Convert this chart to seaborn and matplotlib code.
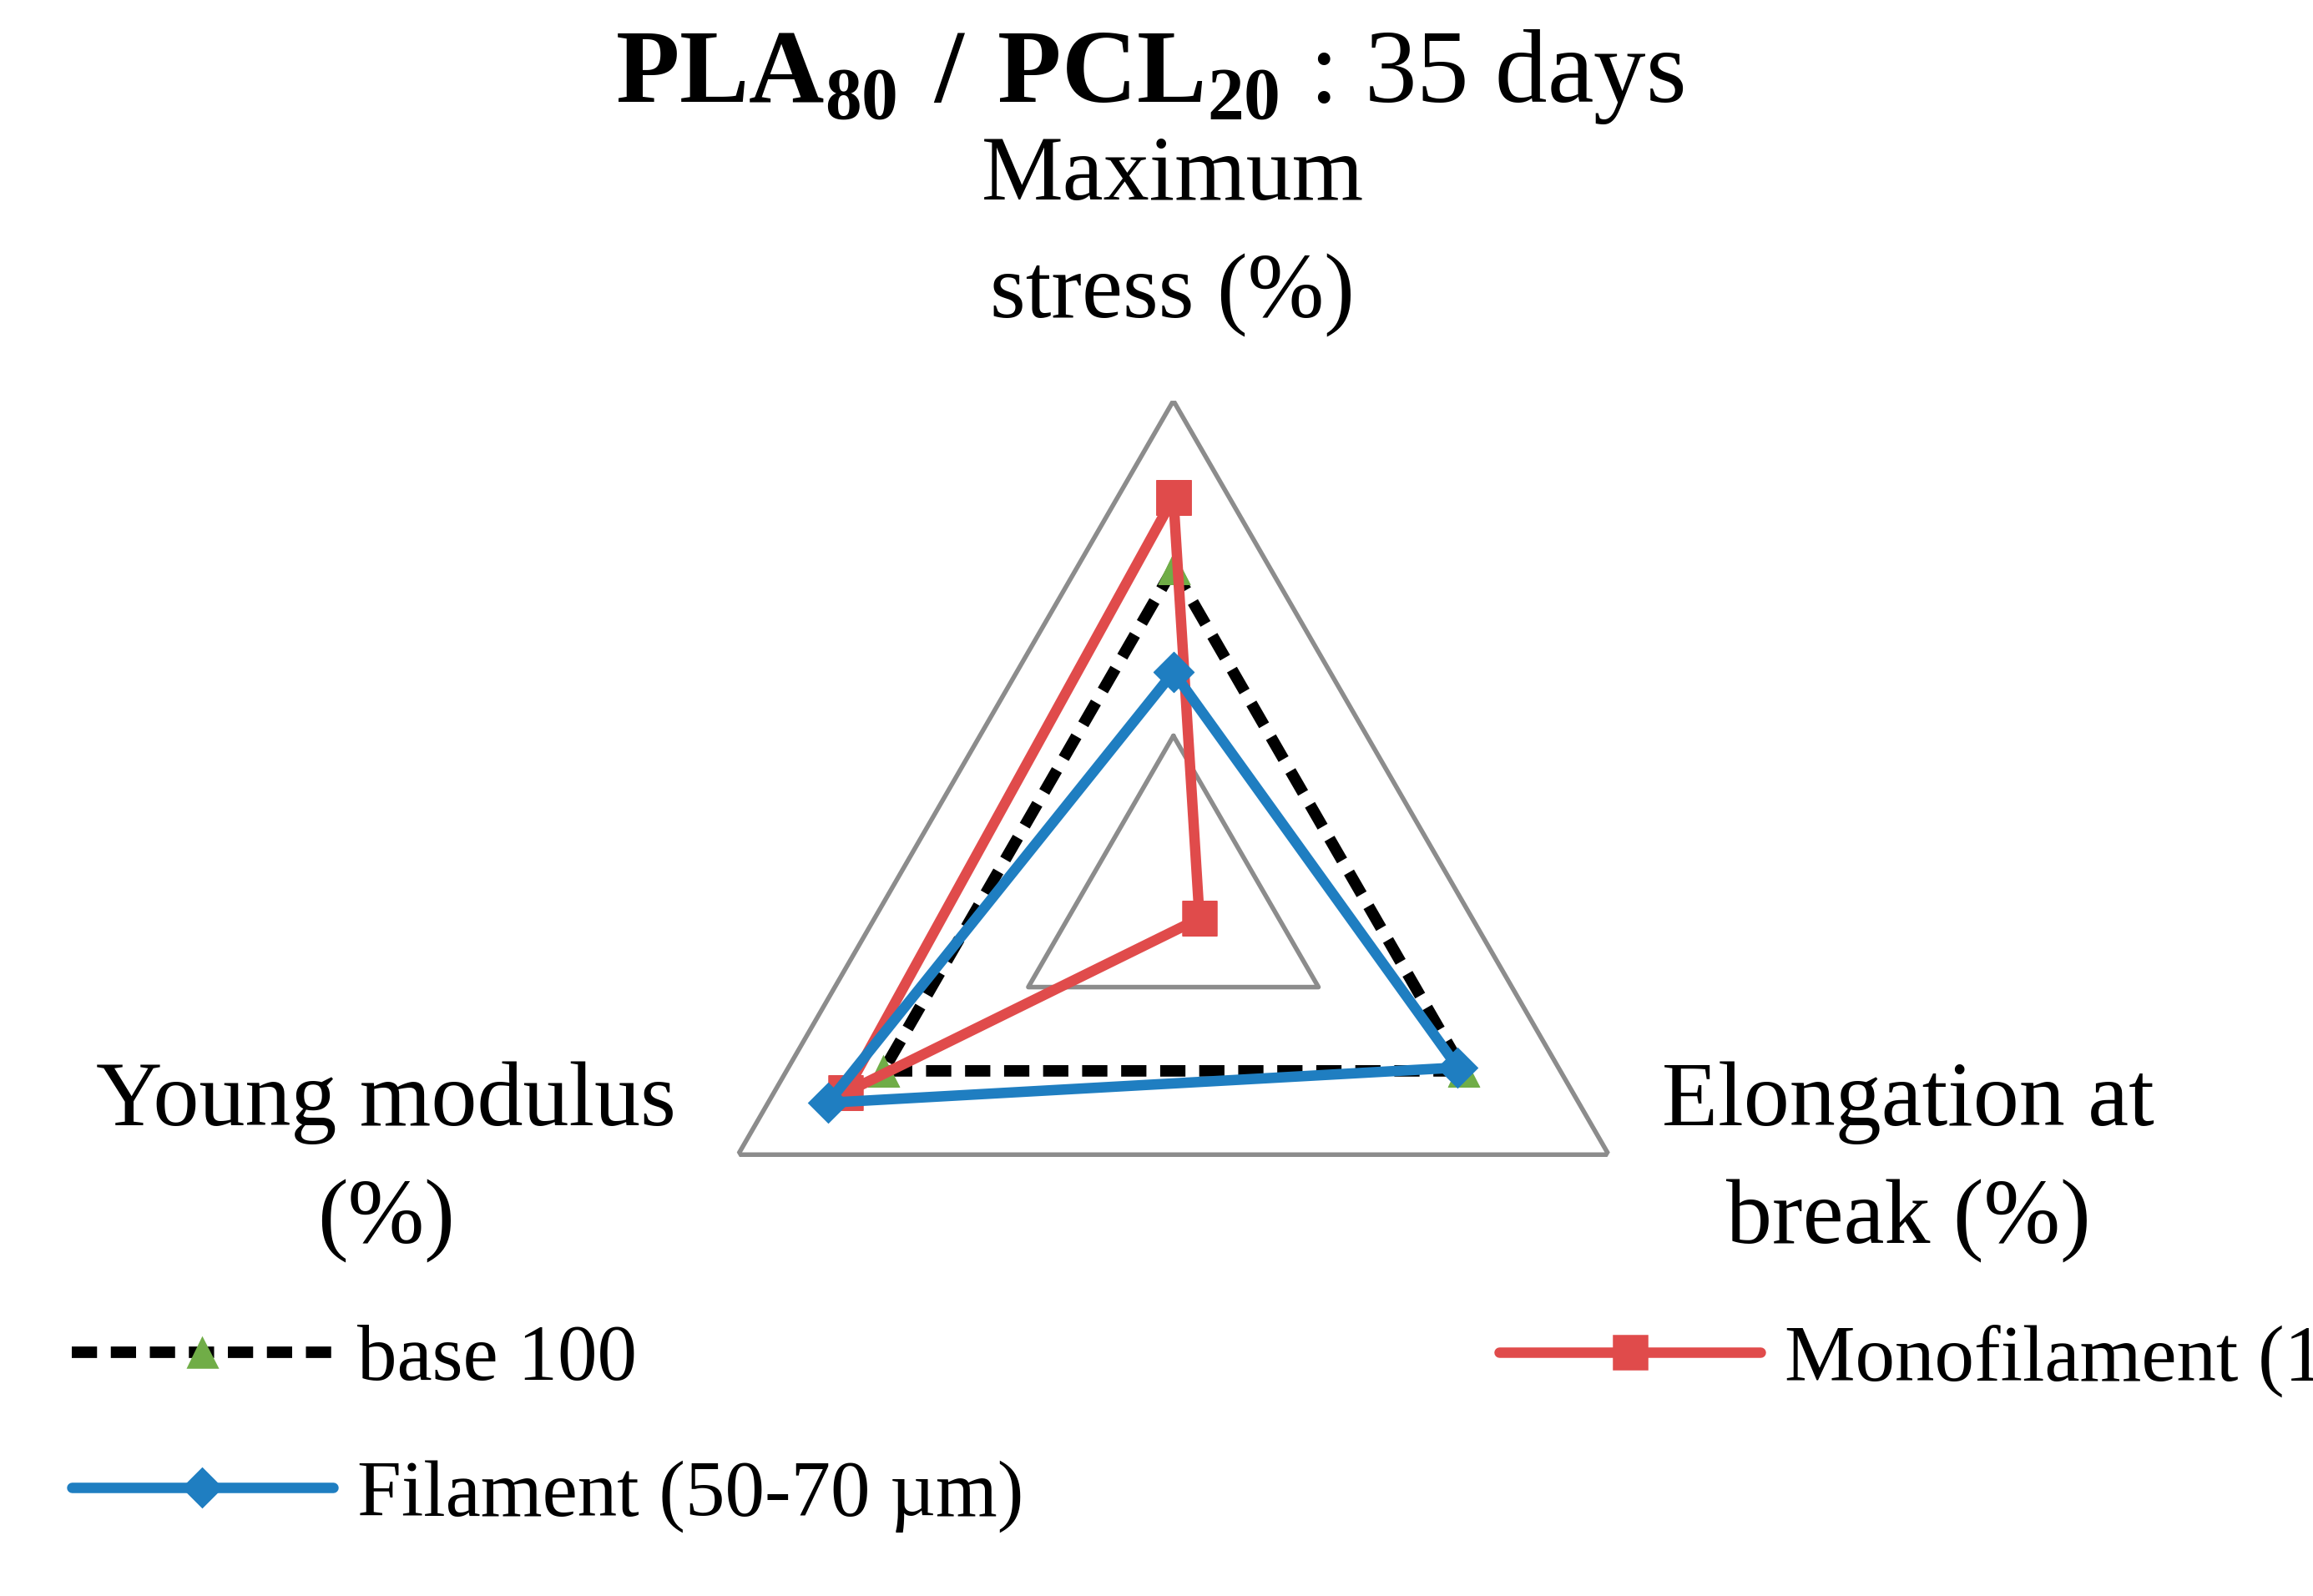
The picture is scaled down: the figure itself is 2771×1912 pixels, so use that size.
import numpy as np
import matplotlib
matplotlib.use("Agg")
import matplotlib.pyplot as plt
import seaborn as sns

sns.set_style("white")
plt.rcParams['font.family'] = ['Liberation Serif', 'DejaVu Serif']
plt.rcParams['text.color'] = 'black'
plt.rcParams['mathtext.fontset'] = 'custom'
plt.rcParams['mathtext.rm'] = 'Liberation Serif'
plt.rcParams['mathtext.bf'] = 'Liberation Serif:bold'

categories = ["Maximum\nstress (%)", "Elongation at\nbreak (%)", "Young modulus\n(%)"]
base100 = [100, 100, 100]
mono = [121, 9, 113]
filament = [69, 98, 119]
grid_levels = [50, 150]

fig = plt.figure(figsize=(2771/180, 1912/180), dpi=180)
ax = fig.add_axes([0.290, 0.119, 0.4346, 0.63], projection='polar')
ax.set_theta_offset(np.pi/2)
ax.set_theta_direction(-1)
ang = np.linspace(0, 2*np.pi, len(categories), endpoint=False)
ac = np.append(ang, ang[0])
for g in grid_levels:
    ax.plot(ac, [g]*4, color='#8c8c8c', lw=2.2, zorder=1)
ax.set_ylim(0, 150)
ax.grid(False); ax.spines['polar'].set_visible(False)
ax.set_xticks([]); ax.set_yticks([])
ax.patch.set_alpha(0)

def cl(v): return list(v) + [v[0]]
ax.plot(ac, cl(base100), color='black', ls=(0, (2.2, 1.2)), lw=5.5, marker='^',
        ms=14, mfc='#70ad47', mec='#70ad47', label='base 100', zorder=3)
ax.plot(ac, cl(mono), color='#e04b4b', lw=5, marker='s', ms=16, label='Monofilament (1  mm)', zorder=4)
ax.plot(ac, cl(filament), color='#1f7ec1', lw=5, marker='D', ms=13, label='Filament (50-70 µm)', zorder=5)

fs = 44
fig.text(0.507, 0.852, categories[0], ha='center', va='center', fontsize=fs, linespacing=1.55)
fig.text(0.825, 0.272, categories[1], ha='center', va='center', fontsize=fs, linespacing=1.55)
fig.text(0.167, 0.272, categories[2], ha='center', va='center', fontsize=fs, linespacing=1.55)
fig.text(0.497, 0.952, r"$\mathbf{PLA}_{\mathbf{80}}\mathbf{\ /\ PCL}_{\mathbf{20}}$ : 35 days",
         ha='center', va='center', fontsize=50)

h, l = ax.get_legend_handles_labels()
order = [0, 2, 1]
fig.legend([h[i] for i in order], [l[i] for i in order], ncol=2, loc='lower left',
           bbox_to_anchor=(0.0, -0.005), frameon=False, fontsize=38, handlelength=3.3,
           columnspacing=6.0, labelspacing=0.8, handletextpad=0.3)
fig.savefig("out.png", dpi=180)
